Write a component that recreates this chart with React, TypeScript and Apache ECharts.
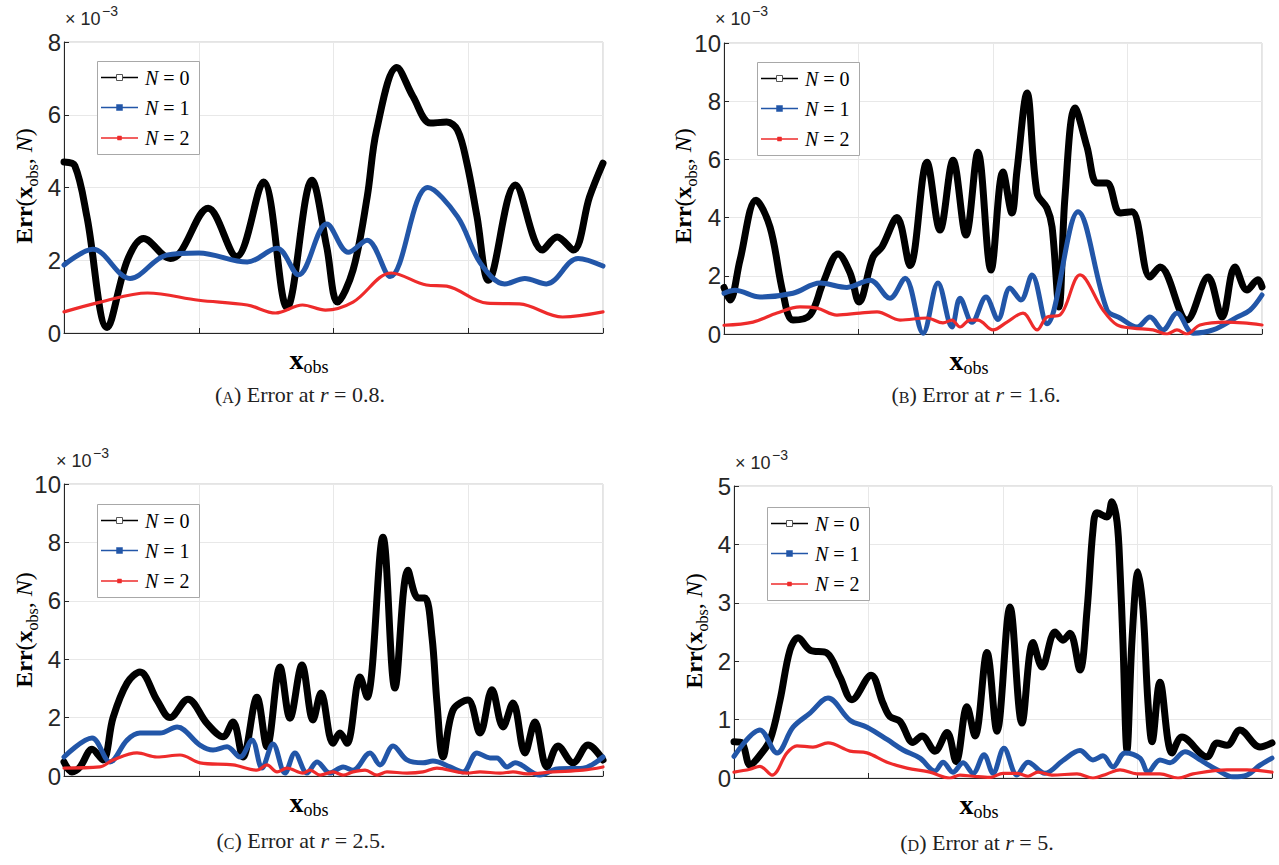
import React, { useEffect, useRef } from "react";
import * as echarts from "echarts";

// ---------- data (x in observation-grid units 0..4, y in units of 1e-3) ----------
const A_N0 = [[0,4.7],[0.08,4.6],[0.17,3.2],[0.32,0.15],[0.47,2.0],[0.59,2.6],[0.79,2.05],[0.86,2.2],[1.07,3.43],[1.28,2.1],[1.48,4.15],[1.655,0.7],[1.84,4.2],[1.95,2.36],[2.03,0.85],[2.145,1.73],[2.25,3.74],[2.32,5.58],[2.47,7.3],[2.59,6.5],[2.72,5.77],[2.84,5.8],[2.92,5.58],[2.99,4.67],[3.065,3.2],[3.15,1.45],[3.35,4.07],[3.55,2.28],[3.66,2.64],[3.78,2.28],[3.9,3.74],[4.0,4.67]];
const A_N1 = [[0,1.87],[0.215,2.3],[0.49,1.5],[0.76,2.14],[1.0,2.2],[1.36,1.95],[1.58,2.33],[1.74,1.6],[1.95,3.0],[2.11,2.22],[2.25,2.55],[2.42,1.55],[2.7,4.0],[2.92,3.2],[3.09,1.92],[3.27,1.35],[3.42,1.5],[3.58,1.35],[3.815,2.05],[4.0,1.84]];
const A_N2 = [[0,0.58],[0.27,0.85],[0.62,1.1],[1.0,0.9],[1.36,0.77],[1.57,0.55],[1.77,0.77],[1.94,0.63],[2.145,0.85],[2.43,1.65],[2.69,1.32],[2.84,1.29],[3.14,0.82],[3.38,0.8],[3.7,0.44],[4.0,0.58]];

const B_N0 = [[0,1.6],[0.045,1.17],[0.119,2.54],[0.238,4.6],[0.342,3.68],[0.439,1.4],[0.513,0.48],[0.639,0.65],[0.736,1.75],[0.848,2.75],[0.937,2.1],[1.004,1.1],[1.108,2.65],[1.175,3.0],[1.286,4.0],[1.383,2.35],[1.509,5.9],[1.606,3.57],[1.703,5.97],[1.799,3.4],[1.888,6.25],[1.985,2.2],[2.074,5.57],[2.141,4.16],[2.178,5.6],[2.253,8.28],[2.327,4.84],[2.401,4.33],[2.439,3.68],[2.491,0.93],[2.535,4.7],[2.61,7.77],[2.699,6.43],[2.773,5.19],[2.848,5.19],[2.944,4.16],[3.033,4.2],[3.167,1.96],[3.242,2.3],[3.442,0.48],[3.599,1.96],[3.703,0.58],[3.799,2.3],[3.888,1.51],[3.97,1.86],[4.0,1.62]];
const B_N1 = [[0,1.4],[0.082,1.5],[0.268,1.27],[0.513,1.4],[0.714,1.75],[0.914,1.6],[1.086,1.85],[1.234,1.23],[1.346,1.92],[1.48,0.03],[1.591,1.75],[1.695,0.24],[1.755,1.23],[1.844,0.4],[1.948,1.27],[2.037,0.5],[2.126,1.58],[2.208,1.17],[2.29,2.03],[2.401,0.35],[2.632,4.2],[2.848,0.82],[2.944,0.55],[3.071,0.24],[3.167,0.58],[3.264,0.14],[3.368,0.72],[3.487,0.03],[3.636,0.14],[3.814,0.58],[3.911,0.82],[4.0,1.34]];
const B_N2 = [[0,0.3],[0.216,0.41],[0.394,0.72],[0.565,0.93],[0.691,0.89],[0.84,0.65],[1.011,0.72],[1.138,0.76],[1.309,0.48],[1.509,0.55],[1.628,0.38],[1.695,0.48],[1.755,0.24],[1.829,0.48],[1.888,0.48],[2.0,0.14],[2.104,0.41],[2.223,0.72],[2.327,0.14],[2.401,0.58],[2.498,0.65],[2.647,2.03],[2.818,0.82],[2.922,0.31],[3.041,0.2],[3.19,0.14],[3.294,0.0],[3.368,0.14],[3.442,0.0],[3.539,0.31],[3.74,0.41],[3.859,0.38],[4.0,0.31]];

const C_N0 = [[0,0.48],[0.059,0.14],[0.119,0.31],[0.208,0.92],[0.289,0.55],[0.364,2.0],[0.468,3.18],[0.564,3.56],[0.69,2.6],[0.787,2.0],[0.92,2.63],[1.061,1.8],[1.18,1.34],[1.254,1.85],[1.328,0.65],[1.432,2.7],[1.506,1.0],[1.603,3.73],[1.677,1.98],[1.766,3.8],[1.848,1.92],[1.907,2.84],[1.996,1.12],[2.048,1.47],[2.1,1.12],[2.197,3.39],[2.249,2.7],[2.367,8.18],[2.456,3.01],[2.553,7.05],[2.627,6.1],[2.679,6.1],[2.731,4.76],[2.768,2.5],[2.813,0.65],[2.887,2.26],[2.998,2.6],[3.087,1.47],[3.176,2.95],[3.258,1.68],[3.332,2.5],[3.421,0.79],[3.495,1.85],[3.584,0.31],[3.666,1.03],[3.777,0.45],[3.889,1.06],[4.0,0.55]];
const C_N1 = [[0,0.65],[0.208,1.3],[0.341,0.48],[0.468,1.23],[0.564,1.47],[0.712,1.47],[0.839,1.68],[1.009,1.06],[1.106,0.89],[1.21,1.0],[1.306,0.65],[1.395,1.23],[1.469,0.27],[1.551,1.1],[1.64,0.1],[1.714,0.79],[1.803,0.1],[1.878,0.48],[1.974,0.1],[2.071,0.31],[2.145,0.2],[2.271,0.79],[2.345,0.38],[2.442,1.03],[2.545,0.55],[2.664,0.45],[2.738,0.51],[2.865,0.31],[2.961,0.14],[3.065,0.79],[3.161,0.62],[3.213,0.62],[3.288,0.31],[3.347,0.45],[3.532,0.03],[3.659,0.24],[3.852,0.27],[4.0,0.65]];
const C_N2 = [[0,0.27],[0.267,0.31],[0.364,0.55],[0.542,0.79],[0.69,0.65],[0.861,0.72],[1.009,0.45],[1.254,0.38],[1.432,0.2],[1.506,0.38],[1.581,0.14],[1.655,0.27],[1.774,0.1],[1.826,0.2],[1.9,0.03],[1.996,0.14],[2.071,0.03],[2.145,0.14],[2.234,0.2],[2.323,0.03],[2.397,0.14],[2.545,0.1],[2.664,0.14],[2.768,0.27],[2.917,0.14],[2.991,0.1],[3.087,0.14],[3.236,0.1],[3.332,0.14],[3.436,0.07],[3.629,0.14],[3.852,0.2],[4.0,0.31]];

const D_N0 = [[0,0.62],[0.059,0.6],[0.119,0.22],[0.193,0.39],[0.268,0.65],[0.342,1.33],[0.416,2.19],[0.476,2.4],[0.565,2.19],[0.691,2.14],[0.788,1.73],[0.877,1.34],[1.019,1.76],[1.108,1.28],[1.16,1.05],[1.234,0.97],[1.331,0.61],[1.398,0.72],[1.494,0.46],[1.584,0.78],[1.651,0.28],[1.732,1.22],[1.792,0.72],[1.881,2.15],[1.955,0.8],[2.052,2.93],[2.141,0.94],[2.223,2.32],[2.29,1.9],[2.387,2.5],[2.446,2.36],[2.498,2.48],[2.572,1.85],[2.625,2.88],[2.669,4.25],[2.699,4.54],[2.773,4.47],[2.81,4.73],[2.848,4.38],[2.87,3.56],[2.892,2.31],[2.922,0.48],[2.959,2.36],[3.004,3.53],[3.041,2.88],[3.078,1.28],[3.108,0.62],[3.167,1.64],[3.257,0.43],[3.331,0.7],[3.517,0.36],[3.591,0.6],[3.665,0.56],[3.762,0.82],[3.911,0.53],[4.0,0.6]];
const D_N1 = [[0,0.37],[0.193,0.82],[0.32,0.43],[0.439,0.87],[0.565,1.11],[0.699,1.37],[0.862,0.99],[0.989,0.87],[1.138,0.66],[1.257,0.48],[1.383,0.34],[1.494,0.12],[1.554,0.27],[1.628,0.1],[1.703,0.26],[1.777,0.08],[1.859,0.4],[1.926,0.08],[2.007,0.51],[2.104,0.05],[2.186,0.27],[2.312,0.08],[2.446,0.3],[2.572,0.47],[2.669,0.31],[2.743,0.38],[2.818,0.19],[2.907,0.43],[3.019,0.34],[3.078,0.1],[3.167,0.31],[3.242,0.26],[3.353,0.45],[3.465,0.31],[3.591,0.14],[3.71,0.02],[3.814,0.05],[3.911,0.22],[4.0,0.34]];
const D_N2 = [[0,0.1],[0.119,0.15],[0.193,0.2],[0.283,0.05],[0.394,0.43],[0.468,0.55],[0.587,0.53],[0.699,0.6],[0.862,0.46],[0.989,0.43],[1.138,0.27],[1.286,0.17],[1.457,0.1],[1.606,0.0],[1.68,0.05],[1.777,0.03],[1.903,0.01],[2.0,0.08],[2.104,0.08],[2.186,0.03],[2.26,0.1],[2.364,0.05],[2.55,0.07],[2.669,0.0],[2.773,0.07],[2.87,0.14],[2.996,0.07],[3.167,0.07],[3.301,0.0],[3.413,0.07],[3.665,0.14],[3.814,0.14],[4.0,0.1]];

const SERIES_NAMES = ["N = 0", "N = 1", "N = 2"];
const LEGEND_VALUES = ["0", "1", "2"];
const PANEL_LETTERS = ["A", "B", "C", "D"];
const R_VALUES = ["0.8", "1.6", "2.5", "5"];
const Y_MAX = [8, 10, 10, 5];
const Y_INTERVAL = [2, 2, 2, 1];
const X_MAX = 4;
const EXPONENT = "−3";

// ---------- layout / style ----------
const PANEL_DATA = [
  [A_N0, A_N1, A_N2],
  [B_N0, B_N1, B_N2],
  [C_N0, C_N1, C_N2],
  [D_N0, D_N1, D_N2],
];
const GRIDS = [
  { left: 64, top: 42, width: 539, height: 291 },
  { left: 724, top: 43, width: 538, height: 291 },
  { left: 64, top: 484, width: 539, height: 292 },
  { left: 734, top: 486, width: 538, height: 292 },
];
const EXP_POS = [[65, 19], [715, 19], [56, 461], [735, 463]];
const YLABEL_POS = [[24, 186], [683, 186], [24, 630], [694, 631]];
const XLABEL_POS = [[309, 359], [969, 360], [309, 802], [979, 804]];
const CAPTION_POS = [[300, 392], [976, 392], [301, 838], [977, 840]];
const LEGEND_BOX = [[97, 61], [757, 62], [97, 504], [767, 507]];

const COLORS = ["#000000", "#2256a8", "#ee2b2b"];
const WIDTHS = [7, 5, 3.2];
const TXT = "#262626";
const SERIF = "Liberation Serif";
const SANS = "Liberation Sans";

function txt(x: number, y: number, text: string, extra: any, rot = 0) {
  return {
    type: "text", x, y, rotation: rot, z: 100,
    style: { text, align: "center", verticalAlign: "middle", ...extra },
  };
}

function buildOption() {
  const grid: any[] = [];
  const xAxis: any[] = [];
  const yAxis: any[] = [];
  const series: any[] = [];
  const elements: any[] = [];

  GRIDS.forEach((g, i) => {
    grid.push({ ...g, show: true, borderColor: "#c8c8c8", borderWidth: 1, backgroundColor: "#fff" });
    xAxis.push({
      type: "value", gridIndex: i, min: 0, max: X_MAX, interval: 1,
      axisLine: { show: true, onZero: false, lineStyle: { color: TXT, width: 1 } },
      axisTick: { show: true, inside: true, length: 5, lineStyle: { color: TXT } },
      axisLabel: { show: false },
      splitLine: { show: true, lineStyle: { color: "#e8e8e8", width: 1 } },
    });
    yAxis.push({
      type: "value", gridIndex: i, min: 0, max: Y_MAX[i], interval: Y_INTERVAL[i],
      axisLine: { show: true, onZero: false, lineStyle: { color: TXT, width: 1 } },
      axisTick: { show: true, inside: true, length: 5, lineStyle: { color: TXT } },
      axisLabel: { show: true, color: TXT, fontFamily: SANS, fontSize: 24, margin: 3 },
      splitLine: { show: true, lineStyle: { color: "#e8e8e8", width: 1 } },
    });
    PANEL_DATA[i].forEach((d, k) => {
      series.push({
        type: "line", name: SERIES_NAMES[k], xAxisIndex: i, yAxisIndex: i,
        data: d, smooth: 0.35, symbol: "none", showSymbol: false, silent: true,
        lineStyle: { color: COLORS[k], width: WIDTHS[k], cap: "round", join: "round" },
        z: 2 + k,
      });
    });

    // ×10^-3
    const [ex, ey] = EXP_POS[i];
    elements.push(txt(ex, ey, "{a|× 10}", { align: "left", rich: { a: { fill: TXT, fontSize: 18, fontFamily: SANS } } }));
    elements.push(txt(ex + 37, ey - 8, `{a|${EXPONENT}}`, { align: "left", rich: { a: { fill: TXT, fontSize: 14, fontFamily: SANS } } }));

    // y label
    const [yx, yy] = YLABEL_POS[i];
    elements.push(txt(yx, yy, "{b|Err}{n|(}{b|x}{s|obs}{n|, }{i|N}{n|)}", {
      rich: {
        b: { fontFamily: SERIF, fontWeight: "bold", fontSize: 24, fill: "#000", lineHeight: 32 },
        n: { fontFamily: SERIF, fontSize: 24, fill: "#000", lineHeight: 32 },
        i: { fontFamily: SERIF, fontStyle: "italic", fontSize: 24, fill: "#000", lineHeight: 32 },
        s: { fontFamily: SERIF, fontSize: 16, fill: "#000", lineHeight: 16, verticalAlign: "bottom" },
      },
    }, Math.PI / 2));

    // x label
    const [xx, xy] = XLABEL_POS[i];
    elements.push(txt(xx, xy, "{b|x}{s|obs}", {
      rich: {
        b: { fontFamily: SERIF, fontWeight: "bold", fontSize: 28, fill: "#000", lineHeight: 34 },
        s: { fontFamily: SERIF, fontSize: 18, fill: "#000", lineHeight: 18, verticalAlign: "bottom" },
      },
    }));

    // caption
    const [cx, cy] = CAPTION_POS[i];
    elements.push(txt(cx, cy, `{n|(}{sc|${PANEL_LETTERS[i]}}{n|) Error at }{i|r}{n| = ${R_VALUES[i]}.}`, {
      rich: {
        n: { fontFamily: SERIF, fontSize: 22, fill: "#222", lineHeight: 26, verticalAlign: "bottom" },
        sc: { fontFamily: SERIF, fontSize: 16, fill: "#222", lineHeight: 22, verticalAlign: "bottom" },
        i: { fontFamily: SERIF, fontStyle: "italic", fontSize: 22, fill: "#222", lineHeight: 26, verticalAlign: "bottom" },
      },
    }));

    // legend
    const [lx, ly] = LEGEND_BOX[i];
    const bw = 102, bh = 93;
    elements.push({ type: "rect", z: 100, shape: { x: lx + 0.5, y: ly + 0.5, width: bw, height: bh }, style: { fill: "#fff", stroke: "#a8a8a8", lineWidth: 1 } });
    const rows = [16.5, 46.5, 77];
    rows.forEach((ry, k) => {
      const y = ly + ry;
      elements.push({ type: "line", z: 101, shape: { x1: lx + 4, y1: y, x2: lx + 41, y2: y }, style: { stroke: COLORS[k], lineWidth: 1.3 } });
      const s = k === 2 ? 4 : 6;
      elements.push({
        type: "rect", z: 102,
        shape: { x: lx + 22.5 - s / 2, y: y - s / 2, width: s, height: s },
        style: k === 0 ? { fill: "#fff", stroke: "#555", lineWidth: 1 } : { fill: COLORS[k], stroke: COLORS[k], lineWidth: 0.5 },
      });
      const t = txt(lx + 48, y, `{i|N}{n| = ${LEGEND_VALUES[k]}}`, {
        align: "left",
        rich: {
          i: { fontFamily: SERIF, fontStyle: "italic", fontSize: 20, fill: "#000" },
          n: { fontFamily: SERIF, fontSize: 20, fill: "#000" },
        },
      });
      t.z = 102;
      elements.push(t);
    });
  });

  return { animation: false, backgroundColor: "#ffffff", grid, xAxis, yAxis, series, graphic: { elements } };
}

export default function App() {
  const ref = useRef<HTMLDivElement>(null);
  useEffect(() => {
    if (!ref.current) return;
    const chart = echarts.init(ref.current, null, { renderer: "svg" });
    chart.setOption(buildOption() as any);
    return () => chart.dispose();
  }, []);
  return <div ref={ref} style={{ position: "fixed", left: 0, top: 0, width: 1279, height: 865, background: "#fff" }} />;
}
